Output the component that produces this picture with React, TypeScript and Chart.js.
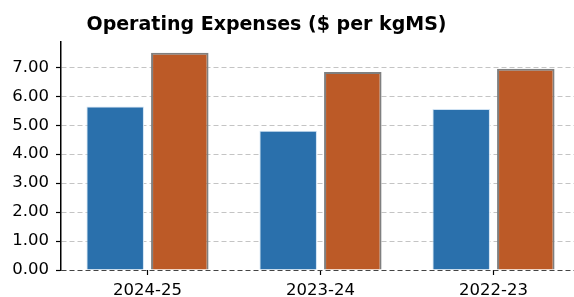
import React, { useEffect, useRef } from "react";
import { Chart, registerables } from "chart.js";

Chart.register(...registerables);

const categories = ["2024-25", "2023-24", "2022-23"];
const seriesA = [5.65, 4.81, 5.56];
const seriesB = [7.5, 6.84, 6.95];
const yTicks = [0, 1, 2, 3, 4, 5, 6, 7];
const titleText = "Operating Expenses ($ per kgMS)";

const FONT = "'DejaVu Sans', sans-serif";

export default function App() {
  const ref = useRef<HTMLCanvasElement | null>(null);
  useEffect(() => {
    if (!ref.current) return;
    const titlePlugin = {
      id: "customTitle",
      afterDraw(chart: any) {
        const ctx = chart.ctx;
        ctx.save();
        ctx.font = `bold 19px ${FONT}`;
        ctx.fillStyle = "#000";
        ctx.textAlign = "center";
        ctx.textBaseline = "alphabetic";
        ctx.fillText(titleText, 266.5, 30);
        ctx.restore();
      },
    };
    const chart = new Chart(ref.current, {
      type: "bar",
      data: {
        labels: categories,
        datasets: [
          {
            label: "A",
            data: seriesA,
            backgroundColor: "#2a70ac",
            borderColor: "#cfe2f3",
            borderWidth: 1,
            categoryPercentage: 0.747,
            barPercentage: 0.89,
          },
          {
            label: "B",
            data: seriesB,
            backgroundColor: "#bc5a27",
            borderColor: "#7f7f7f",
            borderWidth: 2,
            categoryPercentage: 0.747,
            barPercentage: 0.89,
          },
        ],
      },
      options: {
        animation: false,
        responsive: false,
        maintainAspectRatio: false,
        layout: { padding: { top: 42, left: 0, right: 0, bottom: 0 } },
        plugins: { legend: { display: false }, title: { display: false }, tooltip: { enabled: false } },
        scales: {
          x: {
            offset: true,
            border: { display: false },
            grid: {
              offset: false,
              drawOnChartArea: false,
              drawTicks: true,
              tickLength: 5,
              tickColor: "#000",
              tickWidth: 1.2,
            },
            ticks: {
              color: "#000",
              font: { family: FONT, size: 16.5 },
              padding: 6,
              maxRotation: 0,
              autoSkip: false,
            },
            afterFit(scale: any) {
              scale.height = 27;
            },
          },
          y: {
            min: 0,
            max: 7.875,
            border: { display: true, color: "#000", width: 1.5, dash: [5, 3] },
            grid: {
              color: (c: any) => (c.tick && c.tick.value === 0 ? "#444" : "#c4c4c4"),
              lineWidth: 1,
              drawTicks: true,
              tickLength: 5,
              tickColor: "#000",
              tickWidth: 1.2,
              tickBorderDash: [],
            },
            ticks: {
              color: "#000",
              font: { family: FONT, size: 16.5 },
              padding: 7,
              callback: (v: any) => Number(v).toFixed(2),
            },
            afterBuildTicks(scale: any) {
              scale.ticks = yTicks.map((v) => ({ value: v }));
            },
            afterFit(scale: any) {
              scale.width = 61;
            },
          },
        },
      },
      plugins: [titlePlugin],
    });
    return () => chart.destroy();
  }, []);
  return (
    <div
      style={{
        position: "fixed",
        left: 0,
        top: 0,
        width: 574,
        height: 297,
        overflow: "hidden",
        background: "#fff",
      }}
    >
      <canvas ref={ref} width={580} height={297} style={{ width: 580, height: 297, display: "block" }} />
    </div>
  );
}
